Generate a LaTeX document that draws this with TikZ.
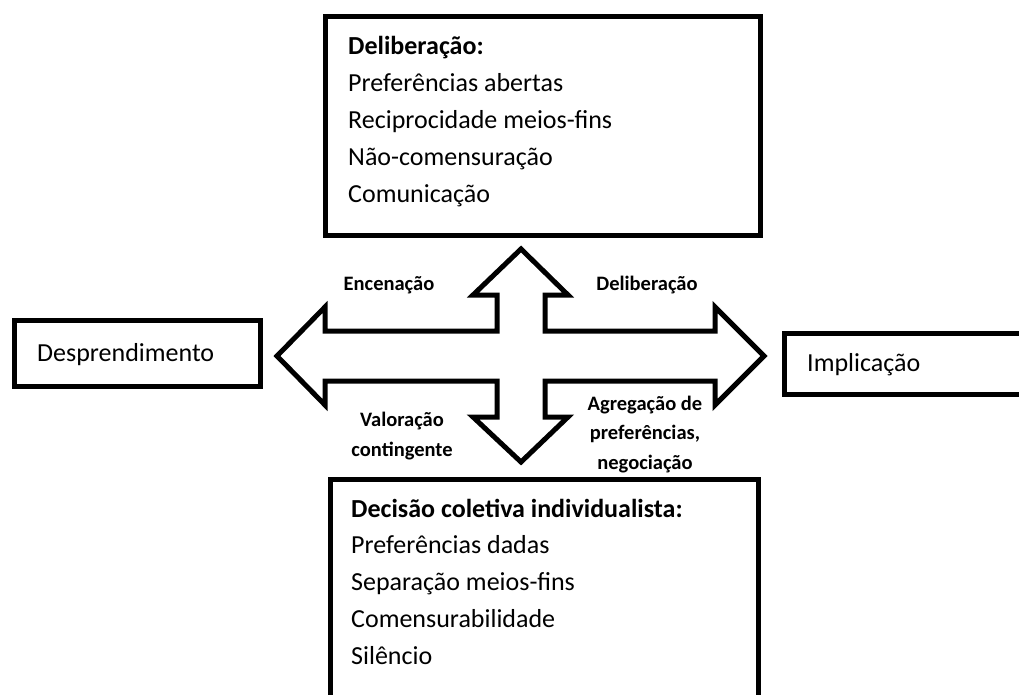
\documentclass[tikz,border=0pt]{standalone}
\usepackage{fontspec}
\setmainfont{Carlito}
\begin{document}
\begin{tikzpicture}[x=1pt,y=-1pt,
  framebox/.style={draw=black, line width=5pt},
  boxtext/.style={anchor=base west, inner sep=0pt, align=left, font=\fontsize{26}{36.8}\selectfont},
  sidetext/.style={anchor=base west, inner sep=0pt, font=\fontsize{26}{31}\selectfont},
  lbl/.style={anchor=base, inner sep=0pt, align=center, font=\fontsize{20.5}{29.3}\selectfont\bfseries}]
\useasboundingbox (0,0) rectangle (1019,695);
\clip (0,0) rectangle (1019,695);
\fill[white] (0,0) rectangle (1019,695);

% boxes (base anchor of a multi-line node = baseline of its last line)
\draw[framebox] (325.5,17) rectangle (760,235);
\node[boxtext] (toptext) at (348,202.2)
  {\textbf{Deliberação:}\\Preferências abertas\\Reciprocidade meios-fins\\Não-comensuração\\Comunicação};

\draw[framebox] (330.5,479.5) rectangle (758,720);
\node[boxtext] (bottext) at (351,664.2)
  {\textbf{Decisão coletiva individualista:}\\Preferências dadas\\Separação meios-fins\\Comensurabilidade\\Silêncio};

\draw[framebox] (14,320.5) rectangle (260.5,386);
\node[sidetext] (desp) at (37,361.5) {Desprendimento};

\draw[framebox] (784.5,333) rectangle (1040,394.5);
\node[sidetext] (impl) at (807,371) {Implicação};

% four-headed arrow
\draw[line width=5pt, line join=miter, miter limit=10]
  (521,249) -- (568,295) -- (545,295) -- (545,331) -- (715,331) -- (715,307)
  -- (764,356) -- (715,405) -- (715,381) -- (545,381) -- (545,417) -- (568,417)
  -- (521,462) -- (473,417) -- (497,417) -- (497,381) -- (325,381) -- (325,405)
  -- (277,356) -- (325,307) -- (325,331) -- (497,331) -- (497,295) -- (473,295) -- cycle;

% labels
\node[lbl] (enc) at (389,290) {Encenação};
\node[lbl] (delib) at (647,290) {Deliberação};
\node[lbl] (valor) at (402,456) {Valoração\\contingente};
\node[lbl] (agreg) at (645,469) {Agregação de\\preferências,\\negociação};
\end{tikzpicture}
\end{document}
